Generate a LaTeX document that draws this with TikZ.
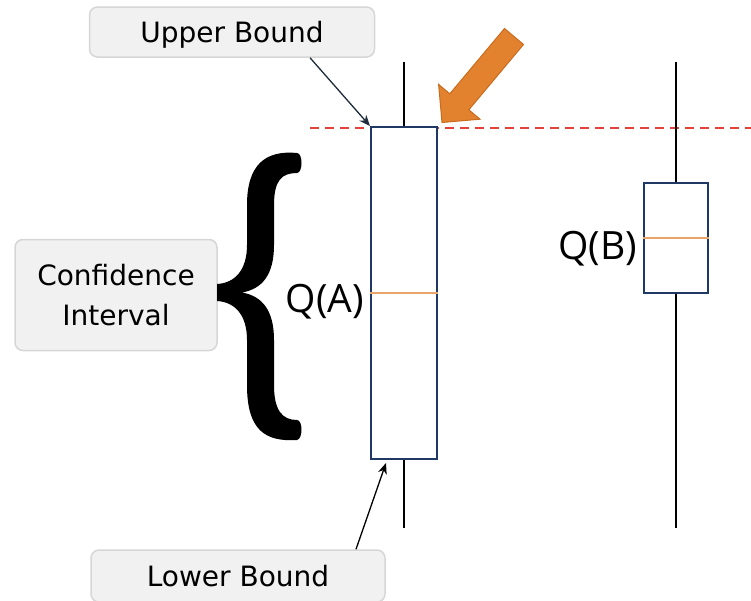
\documentclass[tikz,border=0pt]{standalone}
\usepackage{fontspec}
\setmainfont{DejaVu Sans}
\newfontfamily\qfont{Open Sans}
\usetikzlibrary{arrows.meta}

\definecolor{boxnavy}{HTML}{1F3864}
\definecolor{medorange}{HTML}{E9A46A}
\definecolor{bigorange}{HTML}{E2822F}
\definecolor{edgeorange}{HTML}{C96C1E}
\definecolor{limitred}{HTML}{E2423A}
\definecolor{infofill}{HTML}{F1F1F1}
\definecolor{infoline}{HTML}{D6D6D6}
\definecolor{pointerdark}{HTML}{1E2B3A}

\begin{document}
\begin{tikzpicture}[x=1pt,y=-1pt,
  infobox/.style={draw=infoline, fill=infofill, line width=1.5pt, rounded corners=8pt,
    font=\fontsize{28}{40}\selectfont, align=center, inner sep=0pt},
  quant/.style={draw=boxnavy, fill=white, line width=2pt, inner sep=0pt},
  whisker/.style={draw, line width=2.3pt},
  median/.style={draw=medorange, line width=1.3pt},
  pointer/.style={line width=1.3pt, -{Stealth[length=11pt,width=9pt]}},
  qlabel/.style={font=\qfont\fontsize{39}{39}\selectfont, inner sep=0pt}]
\useasboundingbox (0,0) rectangle (751,600);

% dashed line at the upper bound of A
\coordinate (ubl) at (310,128);
\coordinate (ubr) at (751,128);
\draw[limitred, line width=1.2pt, dash pattern=on 9pt off 6pt] (ubl) -- (ubr);

% whisker ends
\coordinate (topA) at (404,62);
\coordinate (botA) at (404,528);
\coordinate (topB) at (676,62);
\coordinate (botB) at (676,528);

% the two boxes
\node[quant, minimum width=66pt, minimum height=332pt] (boxA) at (404,293) {};
\node[quant, minimum width=64pt, minimum height=110pt] (boxB) at (676,238) {};

\path[whisker] (topA) -- (boxA.north);
\path[whisker] (boxA.south) -- (botA);
\path[whisker] (topB) -- (boxB.north);
\path[whisker] (boxB.south) -- (botB);

\path[median] (boxA.west) -- (boxA.east);
\path[median] (boxB.west) -- (boxB.east);

\node[qlabel, anchor=base east] (qA) at (364,312) {Q(A)};
\node[qlabel, anchor=base east] (qB) at (637,259) {Q(B)};

% labels
\node[infobox, text depth=0pt, minimum width=285pt, minimum height=50pt] (upper) at (232,32) {Upper Bound};
\node[infobox, minimum width=202pt, minimum height=111pt] (ci) at (116,295) {Confidence\\Interval};
\node[infobox, text depth=0pt, minimum width=294pt, minimum height=52pt] (lower) at (238,576) {Lower Bound};

\draw[pointer, pointerdark] ([xshift=78pt]upper.south) -- (boxA.north west);
\draw[pointer, black] ([xshift=118pt]lower.north) -- ([xshift=-18pt,yshift=-3pt]boxA.south);

% curly brace
\fill[black] (297,153) .. controls (265,150) and (247,165) .. (247,205)
  -- (247,245) .. controls (247,270) and (235,283) .. (217,284)
  -- (217,301) .. controls (235,302) and (247,315) .. (247,340)
  -- (247,385) .. controls (247,430) and (265,442) .. (297,440)
  .. controls (303,439) and (303,420) .. (297,420)
  .. controls (282,420) and (274,410) .. (274,385)
  -- (274,340) .. controls (274,310) and (262,296) .. (242,292.5)
  .. controls (262,289) and (274,275) .. (274,245)
  -- (274,205) .. controls (274,180) and (282,173) .. (297,173)
  .. controls (303,173) and (303,153) .. (297,153) -- cycle;

% orange pointer to the upper bound
\filldraw[fill=bigorange, draw=edgeorange, line width=1pt, line join=miter]
  (504.5,28.5) -- (523.5,44.5) -- (468.8,109.8) -- (480.0,119.2)
  -- (442,122.5) -- (438.6,84.4) -- (449.8,93.8) -- cycle;
\end{tikzpicture}
\end{document}
